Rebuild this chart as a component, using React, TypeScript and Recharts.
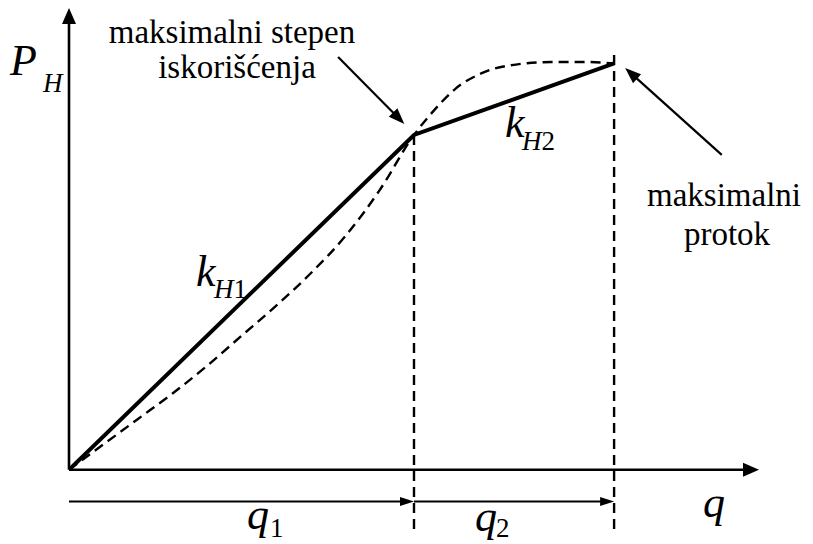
import React from 'react';
import { LineChart, Line, XAxis, YAxis, ReferenceLine } from 'recharts';

// Operating points: maximum efficiency (q1) and maximum flow (q1 + q2)
const qOpt = 5;
const qMax = 7.9;

// Piecewise linear approximation with slopes k_H1 and k_H2
const solidQ = [0, qOpt, qMax];
const solidP = [0, 7.25, 8.8];

// Real P_H(q) characteristic
const curveQ = [0, 0.5, 1, 1.5, 2, 2.5, 3, 3.5, 4, 4.5, 5, 5.3, 5.6, 6, 6.5, 7, 7.5, 7.9];
const curveP = [0, 0.55, 1.1, 1.65, 2.25, 2.9, 3.55, 4.25, 5.05, 6.05, 7.25, 7.8, 8.25, 8.6, 8.78, 8.83, 8.83, 8.8];

const solidData = solidQ.map((q, i) => ({ q, p: solidP[i] }));
const curveData = curveQ.map((q, i) => ({ q, p: curveP[i] }));

const W = 805;
const H = 536;
const FONT = 'Liberation Serif, DejaVu Serif, serif';

// line with a filled triangular head at its end point
const arrow = (headLen: number, half: number, width: number) => (props: any) => {
  const { x1, y1, x2, y2 } = props;
  if ([x1, y1, x2, y2].some((v) => typeof v !== 'number' || isNaN(v))) return <g />;
  const dx = x2 - x1;
  const dy = y2 - y1;
  const d = Math.hypot(dx, dy) || 1;
  const ux = dx / d;
  const uy = dy / d;
  const bx = x2 - ux * headLen;
  const by = y2 - uy * headLen;
  const px = -uy;
  const py = ux;
  return (
    <g>
      <line x1={x1} y1={y1} x2={bx + ux * 2} y2={by + uy * 2} stroke="#000" strokeWidth={width} />
      <polygon
        points={`${x2},${y2} ${bx + px * half},${by + py * half} ${bx - px * half},${by - py * half}`}
        fill="#000"
      />
    </g>
  );
};

const axisArrow = arrow(16, 7, 2.6);
const spanArrow = arrow(14, 4.5, 2);
const noteArrow = arrow(16, 6, 2.2);

const App: React.FC = () => {
  return (
    <div style={{ position: 'relative', width: W, height: H, background: '#fff', fontFamily: FONT }}>
      <LineChart width={W} height={H} margin={{ top: 0, right: 54, bottom: 5, left: 61 }}>
        <XAxis type="number" dataKey="q" domain={[0, 10]} hide allowDataOverflow />
        <YAxis type="number" dataKey="p" domain={[-1.5, 10]} hide allowDataOverflow />

        {/* axes */}
        <ReferenceLine segment={[{ x: 0, y: 0 }, { x: 10, y: 0 }]} ifOverflow="visible" shape={axisArrow} />
        <ReferenceLine segment={[{ x: 0, y: 0 }, { x: 0, y: 10 }]} ifOverflow="visible" shape={axisArrow} />

        {/* q1 / q2 boundaries */}
        <ReferenceLine
          segment={[{ x: qOpt, y: solidP[1] }, { x: qOpt, y: -1.3 }]}
          ifOverflow="visible"
          stroke="#000"
          strokeWidth={2.4}
          strokeDasharray="10 6"
        />
        <ReferenceLine
          segment={[{ x: qMax, y: 8.98 }, { x: qMax, y: -1.3 }]}
          ifOverflow="visible"
          stroke="#000"
          strokeWidth={2.4}
          strokeDasharray="10 6"
        />

        {/* spans q1 and q2 below the axis */}
        <ReferenceLine segment={[{ x: 0, y: -0.69 }, { x: qOpt, y: -0.69 }]} ifOverflow="visible" shape={spanArrow} />
        <ReferenceLine segment={[{ x: qOpt, y: -0.69 }, { x: qMax, y: -0.69 }]} ifOverflow="visible" shape={spanArrow} />

        {/* annotation pointers */}
        <ReferenceLine segment={[{ x: 3.9, y: 8.94 }, { x: 4.86, y: 7.49 }]} ifOverflow="visible" shape={noteArrow} />
        <ReferenceLine segment={[{ x: 9.46, y: 6.82 }, { x: 8.06, y: 8.7 }]} ifOverflow="visible" shape={noteArrow} />

        <Line
          data={curveData}
          dataKey="p"
          type="monotone"
          stroke="#000"
          strokeWidth={2.4}
          strokeDasharray="10 6"
          dot={false}
          activeDot={false}
          isAnimationActive={false}
        />
        <Line
          data={solidData}
          dataKey="p"
          type="linear"
          stroke="#000"
          strokeWidth={4}
          dot={false}
          activeDot={false}
          isAnimationActive={false}
        />
      </LineChart>

      <svg
        width={W}
        height={H}
        style={{ position: 'absolute', left: 0, top: 0, pointerEvents: 'none', fontFamily: FONT }}
        fill="#000"
      >
        <text x={224} y={35} fontSize={33} textAnchor="middle">maksimalni stepen</text>
        <text x={229} y={70} fontSize={33} textAnchor="middle">iskorišćenja</text>
        <text x={716} y={198} fontSize={33} textAnchor="middle">maksimalni</text>
        <text x={719} y={237} fontSize={33} textAnchor="middle">protok</text>

        <text x={2} y={67} fontSize={44} fontStyle="italic">P</text>
        <text x={35} y={84} fontSize={27} fontStyle="italic">H</text>

        <text x={188} y={278} fontSize={44} fontStyle="italic">k</text>
        <text x={206} y={290} fontSize={27}>
          <tspan fontStyle="italic">H</tspan>1
        </text>

        <text x={497} y={129} fontSize={44} fontStyle="italic">k</text>
        <text x={514} y={142} fontSize={27}>
          <tspan fontStyle="italic">H</tspan>2
        </text>

        <text x={239} y={521} fontSize={44} fontStyle="italic">q</text>
        <text x={262} y={529} fontSize={27}>1</text>
        <text x={467} y={523} fontSize={44} fontStyle="italic">q</text>
        <text x={488} y={529} fontSize={27}>2</text>
        <text x={695} y={509} fontSize={44} fontStyle="italic">q</text>
      </svg>
    </div>
  );
};

export default App;
